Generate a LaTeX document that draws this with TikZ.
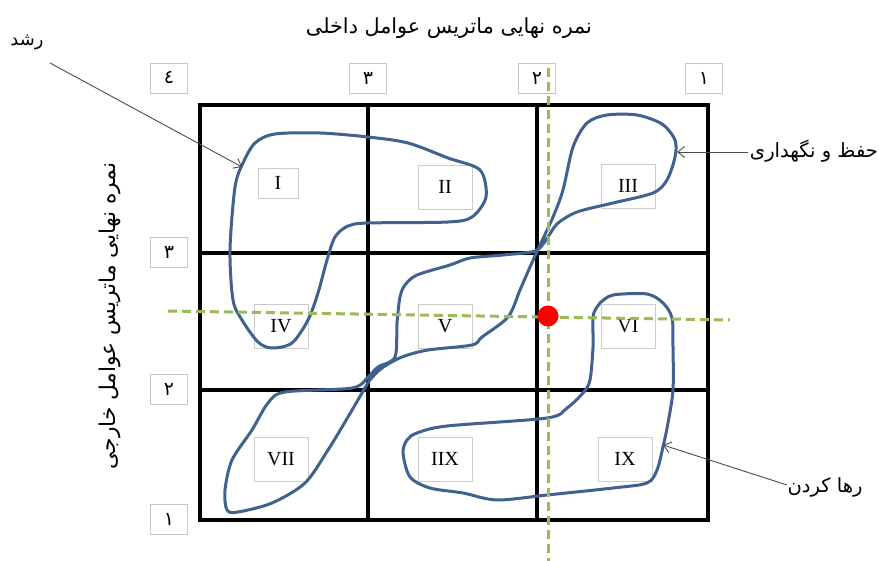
\documentclass[tikz,border=0pt]{standalone}
\usepackage{fontspec}
\usepackage{graphicx}
\usetikzlibrary{arrows.meta}
\setmainfont{Liberation Serif}
\newfontfamily\arabicfont[Script=Arabic]{DejaVu Sans}
\TeXXeTstate=1
\definecolor{curveblue}{HTML}{41618F}
\definecolor{dashgreen}{HTML}{9BBB59}
\begin{document}
\begin{tikzpicture}[x=1pt,y=-1pt,
  numbox/.style={draw=gray!45, fill=white, line width=0.7pt, minimum width=37pt, minimum height=30pt, inner sep=0pt, font=\arabicfont\fontsize{19}{19}\selectfont},
  romanbox/.style={draw=gray!40, line width=0.7pt, minimum width=54pt, minimum height=44pt, inner sep=0pt, font=\fontsize{20}{20}\selectfont},
  gridline/.style={line width=3.2pt, black, line cap=rect},
  blob/.style={curveblue, line width=3pt, line join=round},
  guide/.style={dashgreen, line width=3pt, dash pattern=on 9pt off 5pt},
  pointer/.style={draw=black!70, line width=0.9pt, -{Straight Barb[length=7pt,width=11pt]}},
  artext/.style={inner sep=0pt, font=\arabicfont\fontsize{15}{15}\selectfont}
]
\useasboundingbox (0,0) rectangle (879,561);
\fill[white] (0,0) rectangle (879,561);

% roman numeral boxes
\node[romanbox, minimum width=40pt, minimum height=30pt] (r1) at (278,183) {I};
\node[romanbox] (r2) at (445,187) {II};
\node[romanbox] (r3) at (628,186) {III};
\node[romanbox] (r4) at (281,326) {IV};
\node[romanbox] (r5) at (445,326) {V};
\node[romanbox] (r6) at (628,326) {VI};
\node[romanbox] (r7) at (281,459) {VII};
\node[romanbox] (r8) at (445,459) {IIX};
\node[romanbox] (r9) at (625,459) {IX};

% grid
\draw[gridline] (200,105) rectangle (708,520);
\draw[gridline] (368,105) -- (368,520);
\draw[gridline] (537,105) -- (537,520);
\draw[gridline] (200,253) -- (708,253);
\draw[gridline] (200,390) -- (708,390);

% number boxes
\node[numbox] (t4) at (169,78) {\beginR ٤\endR};
\node[numbox] (t3) at (368,78) {\beginR ٣\endR};
\node[numbox] (t2) at (537,78) {\beginR ٢\endR};
\node[numbox] (t1) at (704,78) {\beginR ١\endR};
\node[numbox] (l3) at (169,252) {\beginR ٣\endR};
\node[numbox] (l2) at (169,389) {\beginR ٢\endR};
\node[numbox] (l1) at (169,519) {\beginR ١\endR};

% blue regions
\draw[blob] plot[smooth cycle, tension=0.5] coordinates {
 (255,143) (275,134) (320,133) (368,137) (408,143) (448,158) (480,170) (486,197) (472,217) (448,222) (368,223) (348,226) (335,237) (327,260) (318,293) (308,320) (292,343) (272,348) (258,342) (242,320) (233,300) (230,250) (235,187) (243,163)};
\draw[blob] plot[smooth cycle, tension=0.5] coordinates {
 (637,115) (662,124) (675,140) (675,157) (667,180) (653,193) (613,203) (577,212) (557,224) (546,240) (535,251) (503,255) (470,258) (450,265) (417,275) (405,285) (400,297) (397,323) (395,357) (378,367) (368,377) (352,388) (285,392) (268,403) (252,430) (232,460) (225,490) (227,510) (238,512) (272,503) (305,483) (328,450) (348,417) (362,393) (370,380) (382,368) (402,357) (428,350) (472,345) (482,337) (508,317) (520,290) (530,267) (540,245) (553,217) (563,190) (573,147) (587,123) (607,115)};
\draw[blob] plot[smooth cycle, tension=0.5] coordinates {
 (600,303) (613,295) (647,294) (663,303) (672,318) (673,347) (673,390) (668,423) (663,447) (657,470) (647,483) (613,488) (547,495) (497,500) (463,493) (430,488) (410,477) (403,453) (407,440) (417,433) (447,426) (547,418) (567,408) (583,393) (590,380) (593,347) (593,317) (597,307)};

% green guide lines and point
\coordinate (gl) at (168,311);
\coordinate (gr) at (730,320);
\coordinate (gt) at (548,68);
\coordinate (gb) at (548,561);
\draw[guide] (gl) -- (gr);
\draw[guide] (gt) -- (gb);
\node[circle, fill=red, minimum size=21pt, inner sep=0pt] (pt) at (548,316) {};

% titles
\node[inner sep=0pt] (top) at (449,28) {\resizebox{286pt}{!}{\arabicfont\fontsize{16}{16}\selectfont\beginR نمره نهایی ماتریس عوامل داخلی\endR}};
\node[inner sep=0pt, rotate=90] (left) at (110,316) {\resizebox{307pt}{!}{\arabicfont\fontsize{16}{16}\selectfont\beginR نمره نهایی ماتریس عوامل خارجی\endR}};

% side labels and pointers
\node[artext] (grow) at (27,42) {\resizebox{33pt}{!}{\beginR رشد\endR}};
\node[artext] (keep) at (814,151) {\resizebox{128pt}{!}{\beginR حفظ و نگهداری\endR}};
\node[artext] (quit) at (825,487) {\resizebox{75pt}{!}{\beginR رها کردن\endR}};
\coordinate (growA) at (50,63);
\coordinate (growB) at (242,167);
\coordinate (keepA) at (748,152);
\coordinate (keepB) at (677,152);
\coordinate (quitA) at (787,485);
\coordinate (quitB) at (663,445);
\draw[pointer] (growA) -- (growB);
\draw[pointer] (keepA) -- (keepB);
\draw[pointer] (quitA) -- (quitB);
\end{tikzpicture}
\end{document}
